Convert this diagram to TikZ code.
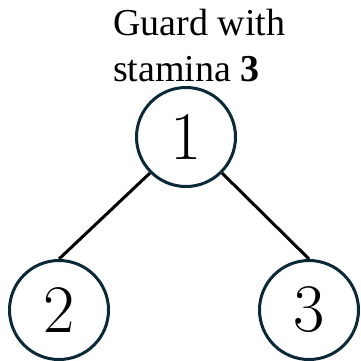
\documentclass[tikz,border=0pt]{standalone}
\usepackage{fontspec}
\newfontfamily\labelfont{Liberation Serif}
\definecolor{circcol}{RGB}{12,41,56}
\tikzset{
  vert/.style={circle, draw=circcol, line width=3pt, minimum size=99pt, inner sep=0pt,
    font=\fontsize{68}{68}\selectfont},
  edgeline/.style={line width=3pt, black},
  caption/.style={anchor=base west, inner sep=0pt, font=\labelfont\fontsize{38}{46}\selectfont}
}
\begin{document}
\begin{tikzpicture}[x=1pt,y=-1pt]
\useasboundingbox (0,0) rectangle (361,360);
\node[vert] (n1) at (186,137) {1};
\node[vert] (n2) at (59,310) {2};
\node[vert] (n3) at (309,310) {3};
\draw[edgeline] (n1.225) -- (n2.north);
\draw[edgeline] (n1.-45) -- (n3.north);
\node[caption] (t1) at (113,35) {Guard with};
\node[caption] (t2) at (113,81) {stamina \textbf{3}};
\end{tikzpicture}
\end{document}
